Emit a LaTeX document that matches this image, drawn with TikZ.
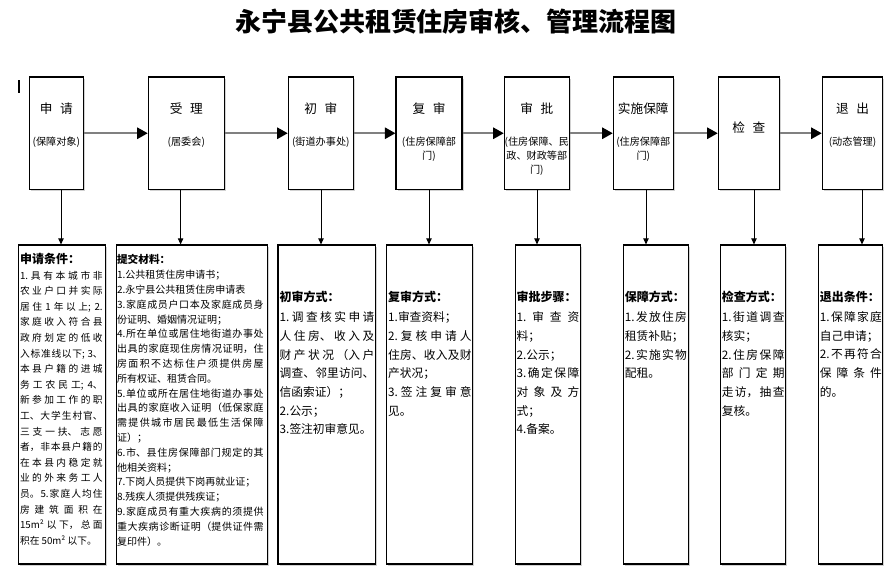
\documentclass[tikz,border=0pt]{standalone}
\usepackage{fontspec}
\setmainfont{Noto Sans CJK SC}
\usetikzlibrary{arrows.meta,shadows,fit}
\XeTeXlinebreaklocale "zh"
\XeTeXlinebreakskip=0pt plus 2pt
\setlength\parindent{0pt}
\setlength\parskip{0pt}
\tikzset{
  box/.style={draw=black, line width=0.8pt, fill=white, inner sep=0pt,
    drop shadow={shadow xshift=1.2pt, shadow yshift=-1.2pt, fill=black!35}},
  ttl/.style={font=\fontsize{9.5}{11}\selectfont, inner sep=0pt},
  sub/.style={font=\fontsize{7.6}{10.5}\selectfont, align=center, inner sep=0pt},
  harrow/.style={draw=black!50, line width=1.5pt, -{Triangle[length=8pt,width=8.5pt,color=black]}},
  varrow/.style={draw=black, line width=0.6pt, -{Triangle[length=4.5pt,width=4pt]}},
  bodyA/.style={anchor=north west, inner sep=0pt, align=justify, font=\fontsize{7.3}{11.7}\selectfont},
  bodyB/.style={anchor=north west, inner sep=0pt, align=justify, font=\fontsize{7.5}{11.1}\selectfont},
  bodyC/.style={anchor=north west, inner sep=0pt, align=justify, font=\fontsize{8.8}{14}\selectfont},
}
\newcommand{\hdA}[1]{{\fontsize{9}{11.7}\selectfont\bfseries #1}\par}
\newcommand{\hdB}[1]{{\fontsize{8}{11.1}\selectfont\bfseries #1}\par}
\newcommand{\hdC}[1]{{\fontsize{9}{14}\selectfont\bfseries #1}\par\vspace{1pt}}
\begin{document}
\begin{tikzpicture}[x=0.75pt,y=-0.75pt]
\useasboundingbox (0,0) rectangle (894,580);

% title
\node[font=\fontsize{19.5}{22}\selectfont\bfseries, inner sep=0pt] (title) at (456,22) {永宁县公共租赁住房审核、管理流程图};

% cursor mark
\fill (17.5,80) rectangle (20,93);

% top boxes
\node[box, fit={(29.3,77) (83.3,189.5)}] (t1) {};
\node[box, fit={(148.3,77) (224.3,189.5)}] (t2) {};
\node[box, fit={(288.3,77) (353.3,189.5)}] (t3) {};
\node[box, fit={(396,77) (462,189.5)}] (t4) {};
\node[box, fit={(504.3,77) (569.3,189.5)}] (t5) {};
\node[box, fit={(613.3,77) (673.3,189.5)}] (t6) {};
\node[box, fit={(718.3,77) (779.3,189.5)}] (t7) {};
\node[box, fit={(822.3,77) (882.7,189.5)}] (t8) {};

% top box texts
\node[ttl] (t1a) at ([yshift=-24.5pt]t1.north) {申\hspace{0.6em}请};
\node[sub] (t1b) at ([yshift=-49pt]t1.north) {(保障对象)};
\node[ttl] (t2a) at ([yshift=-24.5pt]t2.north) {受\hspace{0.6em}理};
\node[sub] (t2b) at ([yshift=-49pt]t2.north) {(居委会)};
\node[ttl] (t3a) at ([yshift=-24.5pt]t3.north) {初\hspace{0.6em}审};
\node[sub] (t3b) at ([yshift=-49pt]t3.north) {(街道办事处)};
\node[ttl] (t4a) at ([yshift=-24.5pt]t4.north) {复\hspace{0.6em}审};
\node[sub] (t4b) at ([yshift=-54.5pt]t4.north) {(住房保障部\\门)};
\node[ttl] (t5a) at ([yshift=-24.5pt]t5.north) {审\hspace{0.6em}批};
\node[sub] (t5b) at ([yshift=-60pt]t5.north) {(住房保障、民\\政、财政等部\\门)};
\node[ttl] (t6a) at ([yshift=-24.5pt]t6.north) {实施保障};
\node[sub] (t6b) at ([yshift=-54.5pt]t6.north) {(住房保障部\\门)};
\node[ttl] (t7a) at ([yshift=-38.25pt]t7.north) {检\hspace{0.6em}查};
\node[ttl] (t8a) at ([yshift=-24.5pt]t8.north) {退\hspace{0.6em}出};
\node[sub] (t8b) at ([yshift=-49pt]t8.north) {(动态管理)};

% horizontal arrows
\draw[harrow] (t1.east) -- (t2.west);
\draw[harrow] (t2.east) -- (t3.west);
\draw[harrow] (t3.east) -- (t4.west);
\draw[harrow] (t4.east) -- (t5.west);
\draw[harrow] (t5.east) -- (t6.west);
\draw[harrow] (t6.east) -- (t7.west);
\draw[harrow] (t7.east) -- (t8.west);

% bottom boxes
\node[box, fit={(18.8,245) (105.5,564)}] (b1) {};
\node[box, fit={(116.3,245) (267.4,564)}] (b2) {};
\node[box, fit={(278,245) (375.5,564)}] (b3) {};
\node[box, fit={(386.5,245) (472.6,564)}] (b4) {};
\node[box, fit={(515.4,245) (580.6,564)}] (b5) {};
\node[box, fit={(623.7,245) (688.5,564)}] (b6) {};
\node[box, fit={(720.6,245) (785.8,564)}] (b7) {};
\node[box, fit={(818.7,245) (882.8,564)}] (b8) {};

% vertical arrows
\coordinate (a1) at (61,0);
\coordinate (a2) at (180.6,0);
\coordinate (a3) at (321,0);
\coordinate (a4) at (429,0);
\coordinate (a5) at (537,0);
\coordinate (a6) at (646,0);
\coordinate (a7) at (754,0);
\coordinate (a8) at (862,0);
\draw[varrow] (t1.south -| a1) -- (b1.north -| a1);
\draw[varrow] (t2.south -| a2) -- (b2.north -| a2);
\draw[varrow] (t3.south -| a3) -- (b3.north -| a3);
\draw[varrow] (t4.south -| a4) -- (b4.north -| a4);
\draw[varrow] (t5.south -| a5) -- (b5.north -| a5);
\draw[varrow] (t6.south -| a6) -- (b6.north -| a6);
\draw[varrow] (t7.south -| a7) -- (b7.north -| a7);
\draw[varrow] (t8.south -| a8) -- (b8.north -| a8);

% bottom texts
\node[bodyA, text width=62pt] (x1) at ([shift={(1.5,8.5)}]b1.north west) {%
\hdA{申请条件：}%
1.具有本城市非\linebreak 农业户口并实际\linebreak 居住 1 年以上; 2.\linebreak 家庭收入符合县\linebreak 政府划定的低收\linebreak 入标准线以下; 3、\linebreak 本县户籍的进城\linebreak 务工农民工; 4、\linebreak 新参加工作的职\linebreak 工、大学生村官、\linebreak 三支一扶、志愿\linebreak 者，非本县户籍的\linebreak 在本县内稳定就\linebreak 业的外来务工人\linebreak 员。5.家庭人均住\linebreak 房建筑面积在\linebreak 15m² 以下，总面\linebreak 积在 50m² 以下。};

\node[bodyB, text width=110pt] (x2) at ([shift={(1,10)}]b2.north west) {%
\hdB{提交材料：}%
1.公共租赁住房申请书；\par
2.永宁县公共租赁住房申请表\par
3.家庭成员户口本及家庭成员身\linebreak 份证明、婚姻情况证明；\par
4.所在单位或居住地街道办事处\linebreak 出具的家庭现住房情况证明，住\linebreak 房面积不达标住户须提供房屋\linebreak 所有权证、租赁合同。\par
5.单位或所在居住地街道办事处\linebreak 出具的家庭收入证明（低保家庭\linebreak 需提供城市居民最低生活保障\linebreak 证）；\par
6.市、县住房保障部门规定的其\linebreak 他相关资料；\par
7.下岗人员提供下岗再就业证；\par
8.残疾人须提供残疾证；\par
9.家庭成员有重大疾病的须提供\linebreak 重大疾病诊断证明（提供证件需\linebreak 复印件）。};

\node[bodyC, text width=71pt] (x3) at ([shift={(2,46.5)}]b3.north west) {%
\hdC{初审方式：}%
1.调查核实申请\linebreak 人住房、收入及\linebreak 财产状况（入户\linebreak 调查、邻里访问、\linebreak 信函索证）；\par
2.公示；\par
3.签注初审意见。};

\node[bodyC, text width=62.5pt] (x4) at ([shift={(2,46.5)}]b4.north west) {%
\hdC{复审方式：}%
1.审查资料；\par
2.复核申请人\linebreak 住房、收入及财\linebreak 产状况；\par
3.签注复审意\linebreak 见。};

\node[bodyC, text width=47pt] (x5) at ([shift={(1.5,46.5)}]b5.north west) {%
\hdC{审批步骤：}%
1.审查资\linebreak 料；\par
2.公示；\par
3.确定保障\linebreak 对象及方\linebreak 式；\par
4.备案。};

\node[bodyC, text width=46.5pt] (x6) at ([shift={(1.5,46.5)}]b6.north west) {%
\hdC{保障方式：}%
1.发放住房\linebreak 租赁补贴；\par
2.实施实物\linebreak 配租。};

\node[bodyC, text width=47pt] (x7) at ([shift={(1.5,46.5)}]b7.north west) {%
\hdC{检查方式：}%
1.街道调查\linebreak 核实；\par
2.住房保障\linebreak 部门定期\linebreak 走访，抽查\linebreak 复核。};

\node[bodyC, text width=46.5pt] (x8) at ([shift={(1.5,46.5)}]b8.north west) {%
\hdC{退出条件：}%
1.保障家庭\linebreak 自己申请；\par
2.不再符合\linebreak 保障条件\linebreak 的。};

\end{tikzpicture}
\end{document}
